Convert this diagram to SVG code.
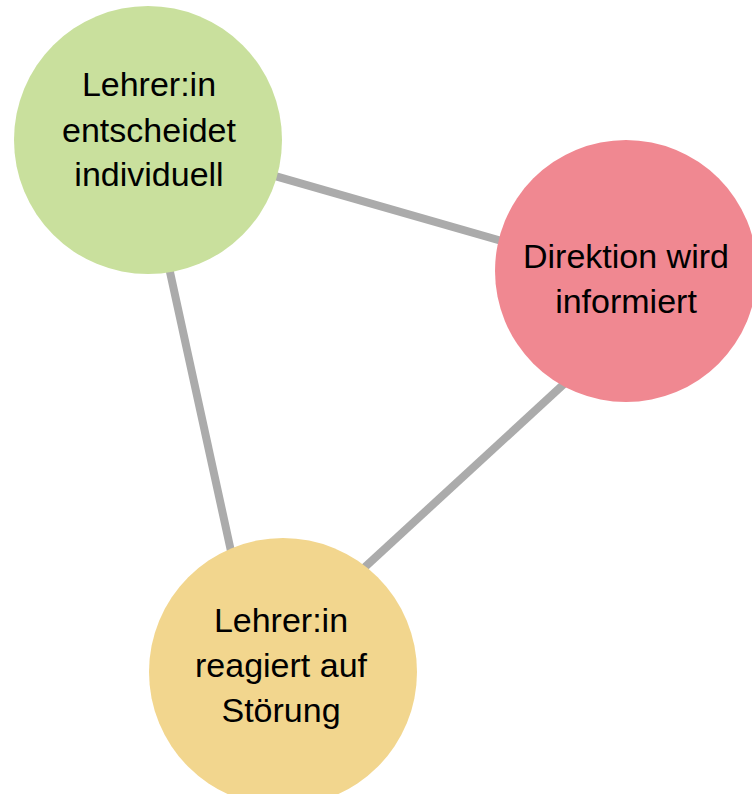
<svg xmlns="http://www.w3.org/2000/svg" width="752" height="794" viewBox="0 0 752 794">
<style>
.edge{stroke:#ababab;stroke-width:8;fill:none}
.lbl{font-family:"Liberation Sans",Arial,sans-serif;font-size:34px;fill:#000;text-anchor:middle}
</style>
<rect width="752" height="794" fill="#fff"/>
<g id="connectors">
<line class="edge" x1="240" y1="166" x2="540" y2="252"/>
<line class="edge" x1="163" y1="240" x2="234" y2="565"/>
<line class="edge" x1="590" y1="360" x2="340" y2="590"/>
</g>
<g id="node-lehrer-entscheidet">
<circle cx="148" cy="140" r="134" fill="#c9e09d"/>
<text class="lbl" x="149" y="96">Lehrer:in</text>
<text class="lbl" x="149" y="142">entscheidet</text>
<text class="lbl" x="149" y="186">individuell</text>
</g>
<g id="node-direktion">
<circle cx="626" cy="271" r="131" fill="#f08891"/>
<text class="lbl" x="626" y="268">Direktion wird</text>
<text class="lbl" x="626" y="313">informiert</text>
</g>
<g id="node-lehrer-reagiert">
<circle cx="283" cy="672" r="134" fill="#f2d68e"/>
<text class="lbl" x="281" y="632">Lehrer:in</text>
<text class="lbl" x="281" y="677">reagiert auf</text>
<text class="lbl" x="281" y="722">Störung</text>
</g>
</svg>
